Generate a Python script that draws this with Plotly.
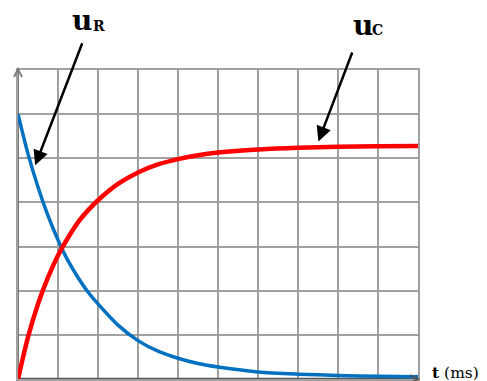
import plotly.graph_objects as go

# time samples (grid divisions) and the two voltages read on the same grid
t_R = [0, 0.25, 0.5, 0.75, 1, 1.25, 1.5, 1.75, 2, 2.5, 3, 3.5, 4, 4.5, 5, 6, 7, 8, 9, 10]
u_R = [6.0, 5.1, 4.35, 3.7, 3.15, 2.68, 2.3, 1.97, 1.7, 1.22, 0.87, 0.63, 0.47, 0.35, 0.27, 0.16, 0.11, 0.08, 0.06, 0.05]

t_C = [0, 0.25, 0.5, 0.75, 1, 1.25, 1.5, 1.75, 2, 2.5, 3, 3.5, 4, 4.5, 5, 6, 7, 8, 9, 10]
u_C = [0, 0.95, 1.7, 2.3, 2.8, 3.2, 3.55, 3.82, 4.05, 4.42, 4.68, 4.86, 4.98, 5.07, 5.13, 5.20, 5.24, 5.26, 5.27, 5.28]

X_MAX, Y_MAX = 10, 7
GRID = "#a0a0a0"
AXIS = "#7a7a7a"

fig = go.Figure()
fig.add_trace(go.Scatter(x=t_R, y=u_R, mode="lines", line=dict(color="#0070c0", width=3.5, shape="spline", smoothing=0.8),
                         hoverinfo="skip", cliponaxis=False))
fig.add_trace(go.Scatter(x=t_C, y=u_C, mode="lines", line=dict(color="#ff0000", width=4.5, shape="spline", smoothing=0.8),
                         hoverinfo="skip", cliponaxis=False))

axis_common = dict(showticklabels=False, ticks="", showgrid=True, gridcolor=GRID, gridwidth=1.5,
                   zeroline=False, showline=True, linecolor=GRID, linewidth=1.5, mirror=True, fixedrange=True)
fig.update_xaxes(range=[0, X_MAX], dtick=1, **axis_common)
fig.update_yaxes(range=[0, Y_MAX], dtick=1, **axis_common)

# darker axes along the left and bottom edges
fig.add_shape(type="line", x0=0, x1=0, y0=0, y1=Y_MAX, line=dict(color=AXIS, width=2), layer="between")
fig.add_shape(type="line", x0=0, x1=X_MAX, y0=0, y1=0, line=dict(color="#555555", width=2.5), layer="between")
# open arrow tips on both axes (paper-referenced so they are not clipped)
fig.add_shape(type="path", xref="paper", yref="paper", xsizemode="pixel", ysizemode="pixel", xanchor=0, yanchor=1,
              path="M -4,-7 L 0,1 L 4,-7", line=dict(color=AXIS, width=1.8))
fig.add_shape(type="path", xref="paper", yref="paper", xsizemode="pixel", ysizemode="pixel", xanchor=1, yanchor=0,
              path="M -8,4 L 0,0 L -8,-4", line=dict(color="#555555", width=1.8))

# curve labels with pointer arrows
arrow = dict(showarrow=True, arrowhead=2, arrowsize=1.2, arrowwidth=2.5, arrowcolor="black",
             axref="x", ayref="y", text="", standoff=0)
fig.add_annotation(x=0.43, y=4.84, ax=1.62, ay=7.64, **arrow)
fig.add_annotation(x=7.51, y=5.38, ax=8.37, ay=7.43, **arrow)

label_font = dict(family="DejaVu Serif", color="black")
labels = [
    ("<b>u</b>", 0.130, 1.1586, 28),
    ("<b>R</b>", 0.1825, 1.1424, 14),
    ("<b>u</b>", 0.8325, 1.1424, 28),
    ("<b>C</b>", 0.8790, 1.1294, 14),
    ("<b>t</b> (ms)", 1.0300, 0.0200, 15.5),
]
for text, px, py, size in labels:
    fig.add_annotation(x=px, y=py, xref="paper", yref="paper", text=text, showarrow=False,
                       xanchor="left", yanchor="middle", font=dict(size=size, **label_font))

fig.update_layout(width=487, height=381, margin=dict(l=18, r=69, t=70, b=2),
                  paper_bgcolor="white", plot_bgcolor="white", showlegend=False)

fig.write_html("out.html", config={"displayModeBar": False})
